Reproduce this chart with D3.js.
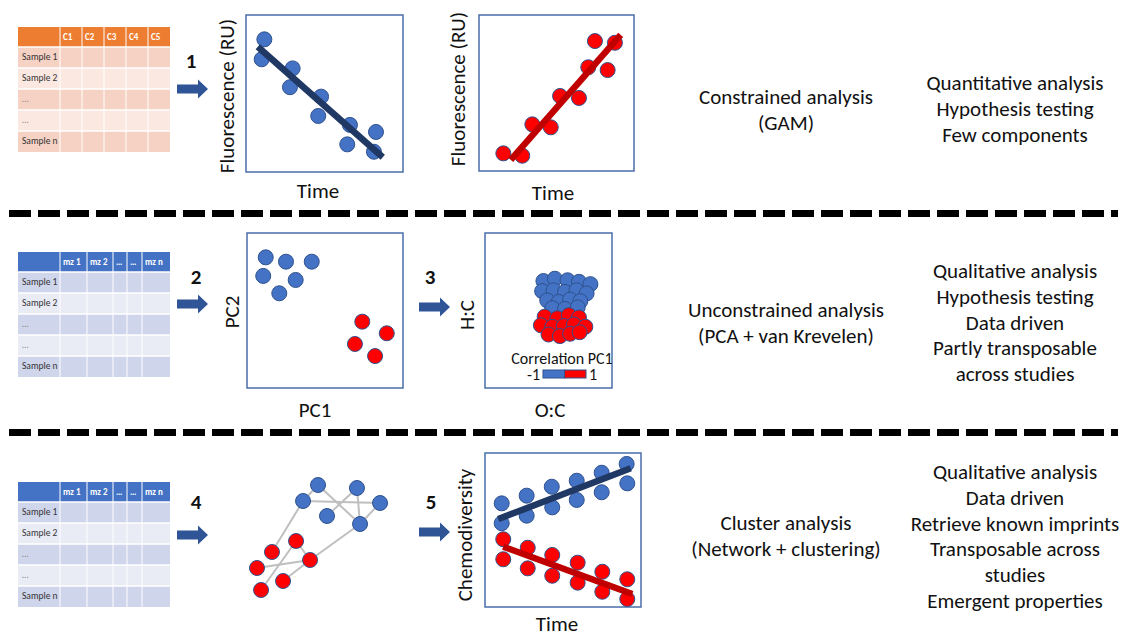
<!DOCTYPE html>
<html>
<head>
<meta charset="utf-8">
<script src="https://cdn.jsdelivr.net/npm/d3@7"></script>
<style>
  body { margin: 0; background: #fff; }
  svg { display: block; font-family: Carlito, Lato, "Liberation Sans", sans-serif; }
</style>
</head>
<body>
<script>
// Workflow schematic: data tables -> analyses -> properties

// ---- data ----
var sampleRows = ["Sample 1", "Sample 2", "\u2026", "\u2026", "Sample n"];
var fluoCols = ["C1", "C2", "C3", "C4", "C5"];
var mzCols = ["mz 1", "mz 2", "\u2026", "\u2026", "mz n"];

// panel 1: fluorescence decreasing with time (x = time, y = fluorescence, 0..10)
var decTime = [1.17, 1.0, 2.97, 2.8, 4.78, 4.6, 6.62, 6.45, 8.28, 8.15];
var decFluo = [8.45, 7.18, 6.6, 5.4, 4.8, 3.57, 3.0, 1.76, 2.55, 1.29];
var decFit = [[0.75, 7.98], [8.71, 0.94]];

// panel 2: fluorescence increasing with time
var incTime = [1.57, 2.79, 3.44, 4.63, 5.23, 6.45, 7.05, 8.3, 7.48, 8.77];
var incFluo = [1.13, 0.98, 2.99, 2.8, 4.81, 4.68, 6.65, 6.47, 8.33, 8.22];
var incFit = [[2.05, 0.71], [9.14, 8.72]];

// panel 3: PCA scores
var pcaBlueX = [1.2, 2.5, 4.15, 1.04, 3.12, 2.07];
var pcaBlueY = [8.43, 8.15, 8.15, 7.23, 6.97, 6.11];
var pcaRedX = [7.39, 8.96, 6.92, 8.21];
var pcaRedY = [4.28, 3.53, 2.84, 2.06];

// panel 4: van Krevelen (O:C, H:C) coloured by correlation with PC1
var vkBlueOC = [4.6, 5.5, 6.5, 7.4, 8.3, 4.5, 5.4, 6.3, 7.2, 8.0, 4.9, 5.8, 6.7, 7.5, 5.3, 6.3, 7.3];
var vkBlueHC = [6.9, 7.05, 6.95, 6.85, 6.7, 6.25, 6.3, 6.2, 6.3, 6.1, 5.65, 5.55, 5.7, 5.6, 5.15, 5.1, 5.2];
var vkRedOC = [4.7, 5.7, 6.6, 7.4, 4.4, 5.3, 6.2, 7.0, 7.9, 5.0, 5.9, 6.7, 7.45];
var vkRedHC = [4.6, 4.5, 4.7, 4.55, 4.05, 3.95, 4.0, 4.1, 3.95, 3.45, 3.35, 3.5, 3.6];
var corrTicks = ["-1", "1"];

// panel 5: network
var nodeX = [4.86, 7.64, 3.79, 9.29, 5.5, 7.86, 3.29, 1.57, 4.29, 0.5, 2.36, 0.79];
var nodeY = [9.2, 8.96, 7.92, 7.76, 6.72, 6.08, 4.72, 3.84, 3.2, 2.56, 1.52, 0.8];
var nodeGroup = ["b", "b", "b", "b", "b", "b", "r", "r", "r", "r", "r", "r"];
var edges = [[0, 2], [0, 5], [1, 4], [1, 5], [2, 3], [3, 5], [2, 7], [6, 8], [6, 11], [9, 8], [8, 10], [8, 5]];

// panel 6: chemodiversity over time
var chemBlueT = [1.07, 1.07, 2.67, 2.67, 4.28, 4.31, 5.88, 5.88, 7.48, 7.48, 9.08, 9.12];
var chemBlueV = [6.73, 5.44, 7.23, 5.93, 7.81, 6.47, 8.2, 6.95, 8.72, 7.45, 9.29, 8.03];
var chemBlueFit = [[0.85, 5.71], [9.34, 9.01]];
var chemRedT = [1.17, 1.17, 2.74, 2.74, 4.31, 4.31, 5.94, 5.94, 7.52, 7.52, 9.12, 9.12];
var chemRedV = [4.40, 3.10, 3.85, 2.51, 3.38, 2.03, 2.88, 1.58, 2.29, 0.99, 1.80, 0.52];
var chemRedFit = [[1.17, 3.92], [9.44, 0.84]];

// text
var stepLabels = ["1", "2", "3", "4", "5"];
var methods = [
  ["Constrained analysis", "(GAM)"],
  ["Unconstrained analysis", "(PCA + van Krevelen)"],
  ["Cluster analysis", "(Network + clustering)"]
];
var properties = [
  ["Quantitative analysis", "Hypothesis testing", "Few components"],
  ["Qualitative analysis", "Hypothesis testing", "Data driven", "Partly transposable", "across studies"],
  ["Qualitative analysis", "Data driven", "Retrieve known imprints", "Transposable across", "studies", "Emergent properties"]
];

// ---- styles ----
var blue = "#4472C4", red = "#FF0000", outline = "#2F528F";
var navy = "#203864", darkRed = "#C00000", arrowCol = "#2F5597";
var fontSize = 21;

var svg = d3.select("body").append("svg")
  .attr("width", 1123).attr("height", 632);

function zip(a, b) { return a.map(function(v, i) { return [v, b[i]]; }); }

// ---- tables ----
function drawTable(x0, y0, cols, colW, header, band1, band2) {
  var g = svg.append("g").attr("transform", "translate(" + x0 + "," + y0 + ")");
  var firstW = 42, headH = 20, rowH = 21;
  var xs = [0, firstW];
  colW.forEach(function(w) { xs.push(xs[xs.length - 1] + w); });
  var total = xs[xs.length - 1];
  var rowY = d3.scaleBand().domain(d3.range(sampleRows.length))
    .range([headH, headH + rowH * sampleRows.length]);

  g.append("rect").attr("width", total).attr("height", headH).attr("fill", header);
  g.selectAll(".row").data(sampleRows).enter().append("rect")
    .attr("y", function(d, i) { return rowY(i); })
    .attr("width", total).attr("height", rowY.bandwidth())
    .attr("fill", function(d, i) { return i % 2 ? band2 : band1; });
  // white grid
  g.selectAll(".vl").data(xs.slice(1, -1)).enter().append("line")
    .attr("x1", function(d) { return d; }).attr("x2", function(d) { return d; })
    .attr("y1", 0).attr("y2", headH + rowH * sampleRows.length)
    .attr("stroke", "#fff").attr("stroke-width", 1);
  g.selectAll(".hl").data(d3.range(sampleRows.length)).enter().append("line")
    .attr("x1", 0).attr("x2", total)
    .attr("y1", function(i) { return rowY(i); }).attr("y2", function(i) { return rowY(i); })
    .attr("stroke", "#fff").attr("stroke-width", 1.5);

  g.selectAll(".hd").data(cols).enter().append("text")
    .attr("x", function(d, i) { return xs[i + 1] + 3; })
    .attr("y", 13).attr("font-size", 9).attr("font-weight", "bold")
    .attr("fill", "#fff").text(function(d) { return d; });
  g.selectAll(".lb").data(sampleRows).enter().append("text")
    .attr("x", 4).attr("y", function(d, i) { return rowY(i) + 13; })
    .attr("font-size", 9.5).attr("fill", function(d) { return d.indexOf("Sample") === 0 ? "#333" : "#888"; })
    .text(function(d) { return d; });
}

drawTable(18, 27, fluoCols, [22, 22, 22, 22, 22], "#ED7D31", "#F6D2C4", "#FBE8E0");
drawTable(18, 252, mzCols, [27, 26, 14, 15, 28], "#4472C4", "#CFD5EA", "#E9EBF5");
drawTable(18, 482, mzCols, [27, 26, 14, 15, 28], "#4472C4", "#CFD5EA", "#E9EBF5");

// ---- arrows and step numbers ----
var arrowPos = [[177, 89, 191, 68], [177, 304, 196, 284], [419, 307, 430, 284], [177, 535, 196, 509], [419, 532, 431, 509]];
arrowPos.forEach(function(p, i) {
  svg.append("path")
    .attr("d", "M0,-4.5 H21 V-9.5 L31,0 L21,9.5 V4.5 H0 Z")
    .attr("transform", "translate(" + p[0] + "," + p[1] + ")")
    .attr("fill", arrowCol);
  svg.append("text").attr("x", p[2]).attr("y", p[3])
    .attr("text-anchor", "middle").attr("font-size", 21).attr("font-weight", "bold")
    .attr("fill", "#111").text(stepLabels[i]);
});

// ---- dashed separators ----
[213.5, 432.5].forEach(function(y) {
  svg.append("line").attr("x1", 9).attr("x2", 1118).attr("y1", y).attr("y2", y)
    .attr("stroke", "#000").attr("stroke-width", 7).attr("stroke-dasharray", "22,7");
});

// ---- panel helper ----
function panel(x0, y0, x1, y1, boxed) {
  var x = d3.scaleLinear().domain([0, 10]).range([x0, x1]);
  var y = d3.scaleLinear().domain([0, 10]).range([y1, y0]);
  var g = svg.append("g");
  if (boxed) {
    g.append("rect").attr("x", x0).attr("y", y0).attr("width", x1 - x0).attr("height", y1 - y0)
      .attr("fill", "none").attr("stroke", "#4A6EA8").attr("stroke-width", 1.5);
  }
  return { x: x, y: y, g: g };
}
function dots(p, pts, fill, r) {
  p.g.selectAll(null).data(pts).enter().append("circle")
    .attr("cx", function(d) { return p.x(d[0]); })
    .attr("cy", function(d) { return p.y(d[1]); })
    .attr("r", r || 7.5).attr("fill", fill)
    .attr("stroke", outline).attr("stroke-width", 1);
}
function fit(p, pts, col) {
  p.g.append("path").datum(pts)
    .attr("d", d3.line().x(function(d) { return p.x(d[0]); }).y(function(d) { return p.y(d[1]); }))
    .attr("stroke", col).attr("stroke-width", 6.5).attr("fill", "none");
}
function label(txt, x, y, rot, size) {
  svg.append("text")
    .attr("transform", "translate(" + x + "," + y + ")" + (rot ? " rotate(-90)" : ""))
    .attr("text-anchor", "middle").attr("font-size", size || fontSize).attr("fill", "#111")
    .text(txt);
}

// panel 1
var p1 = panel(246, 15, 403, 172, true);
dots(p1, zip(decTime, decFluo), blue);
fit(p1, decFit, navy);
label("Fluorescence (RU)", 234, 96, true);
label("Time", 318, 198);

// panel 2
var p2 = panel(479, 15, 634, 171, true);
dots(p2, zip(incTime, incFluo), red);
fit(p2, incFit, darkRed);
label("Fluorescence (RU)", 465, 89, true);
label("Time", 553, 200);

// panel 3
var p3 = panel(247, 233, 403, 388, true);
dots(p3, zip(pcaBlueX, pcaBlueY), blue);
dots(p3, zip(pcaRedX, pcaRedY), red);
label("PC2", 239, 312, true);
label("PC1", 315, 417);

// panel 4
var p4 = panel(485, 233, 612, 388, true);
dots(p4, zip(vkBlueOC, vkBlueHC), blue, 7.5);
dots(p4, zip(vkRedOC, vkRedHC), red, 7.5);
label("H:C", 474, 315, true);
label("O:C", 550, 417);
label("Correlation PC1", 562, 364, false, 16);
var corr = d3.scaleBand().domain(corrTicks).range([543, 586]);
p4.g.selectAll(null).data(corrTicks).enter().append("rect")
  .attr("x", function(d) { return corr(d); }).attr("y", 370)
  .attr("width", corr.bandwidth()).attr("height", 8)
  .attr("fill", function(d, i) { return i ? red : blue; })
  .attr("stroke", outline).attr("stroke-width", 1);
p4.g.selectAll(null).data(corrTicks).enter().append("text")
  .attr("x", function(d, i) { return i ? corr(d) + corr.bandwidth() + 3 : corr(d) - 3; })
  .attr("y", 380).attr("font-size", 16).attr("fill", "#111")
  .attr("text-anchor", function(d, i) { return i ? "start" : "end"; })
  .text(function(d) { return d; });

// panel 5 network
var p5 = panel(250, 475, 390, 600, false);
p5.g.selectAll(null).data(edges).enter().append("line")
  .attr("x1", function(e) { return p5.x(nodeX[e[0]]); })
  .attr("y1", function(e) { return p5.y(nodeY[e[0]]); })
  .attr("x2", function(e) { return p5.x(nodeX[e[1]]); })
  .attr("y2", function(e) { return p5.y(nodeY[e[1]]); })
  .attr("stroke", "#BFBFBF").attr("stroke-width", 2);
p5.g.selectAll(null).data(nodeX).enter().append("circle")
  .attr("cx", function(d) { return p5.x(d); })
  .attr("cy", function(d, i) { return p5.y(nodeY[i]); })
  .attr("r", 7.5)
  .attr("fill", function(d, i) { return nodeGroup[i] === "b" ? blue : red; })
  .attr("stroke", outline).attr("stroke-width", 1);

// panel 6
var p6 = panel(485, 453, 641, 607, true);
dots(p6, zip(chemBlueT, chemBlueV), blue);
dots(p6, zip(chemRedT, chemRedV), red);
fit(p6, chemBlueFit, navy);
fit(p6, chemRedFit, darkRed);
label("Chemodiversity", 472, 535, true);
label("Time", 557, 631);

// ---- text columns ----
var methodY = [97, 310, 523];
var propY = [83, 271, 472];
var lineH = 25.7;
methods.forEach(function(lines, r) {
  lines.forEach(function(t, i) {
    svg.append("text").attr("x", 786).attr("y", methodY[r] + i * lineH).attr("dy", "0.35em")
      .attr("text-anchor", "middle").attr("font-size", fontSize).attr("fill", "#111").text(t);
  });
});
properties.forEach(function(lines, r) {
  lines.forEach(function(t, i) {
    svg.append("text").attr("x", 1015).attr("y", propY[r] + i * lineH).attr("dy", "0.35em")
      .attr("text-anchor", "middle").attr("font-size", fontSize).attr("fill", "#111").text(t);
  });
});
</script>
</body>
</html>
